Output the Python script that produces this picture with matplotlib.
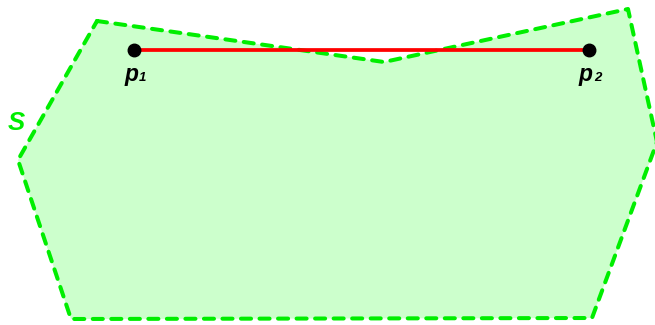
import matplotlib
matplotlib.use("Agg")
import matplotlib.pyplot as plt
from matplotlib.patches import Polygon

# polygon S (pixel coordinates, y down)
poly_x = [97, 384, 628, 657, 592, 71, 18]
poly_y = [21, 62, 9, 142, 318, 319, 160]

# segment p1 - p2
pts_x = [134, 589]
pts_y = [50, 50]
pt_labels = ["1", "2"]

GREEN = "#00ee00"

fig = plt.figure(figsize=(6.55, 3.25), dpi=100)
ax = fig.add_axes([0, 0, 1, 1])
ax.set_xlim(0, 655)
ax.set_ylim(325, 0)
ax.axis("off")

poly = Polygon(list(zip(poly_x, poly_y)), closed=True,
               facecolor="#ccffcc", edgecolor=GREEN,
               linewidth=2.9, linestyle=(0, (2.5, 2.1)),
               joinstyle="round")
poly.set_capstyle("round")
ax.add_patch(poly)

ax.plot(pts_x, pts_y, color="#ff0000", linewidth=2.7, zorder=3)
ax.plot(pts_x, pts_y, "o", color="black", markersize=9, zorder=4)

font = "Liberation Sans"
for x, y, sub in zip(pts_x, pts_y, pt_labels):
    ax.text(x - 10, y + 31, "p", fontsize=16.5, fontweight="bold",
            fontstyle="italic", family=font, va="baseline")
    ax.text(x + 5, y + 31, sub, fontsize=9.5, fontweight="bold",
            fontstyle="italic", family=font, va="baseline")

ax.text(8, 130, "S", fontsize=18.5, fontweight="bold", fontstyle="italic",
        family=font, color=GREEN, va="baseline")

fig.savefig("out.png", dpi=100)
